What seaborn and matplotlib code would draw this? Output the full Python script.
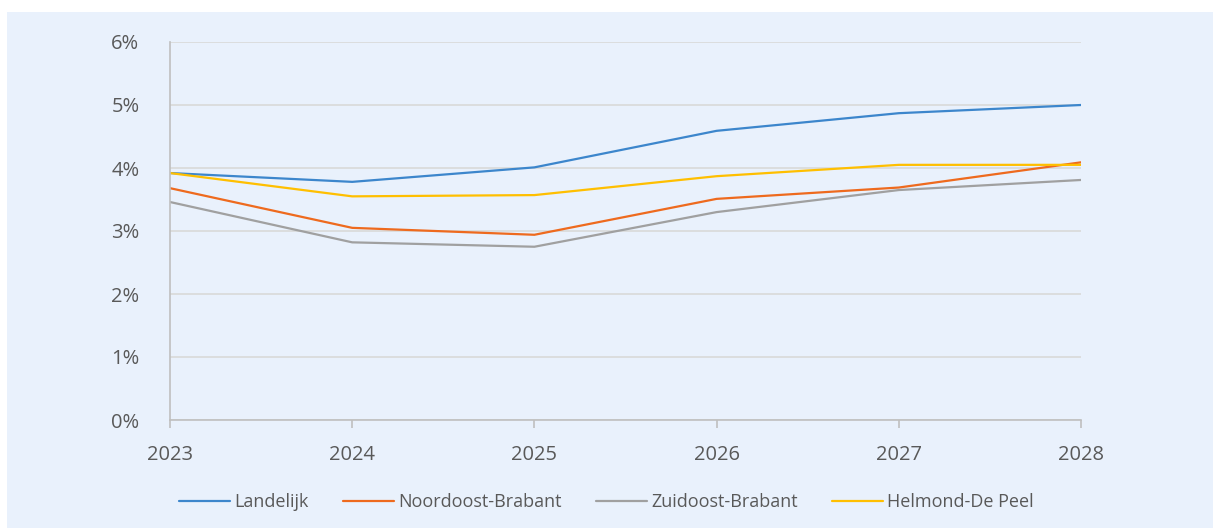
import matplotlib
matplotlib.use("Agg")
import matplotlib.pyplot as plt
import matplotlib.patches as mpatches
import seaborn as sns
import pandas as pd
from matplotlib.ticker import FuncFormatter

years = [2023, 2024, 2025, 2026, 2027, 2028]
landelijk = [3.92, 3.78, 4.01, 4.59, 4.87, 5.00]
noordoost = [3.68, 3.05, 2.94, 3.51, 3.69, 4.09]
zuidoost = [3.46, 2.82, 2.75, 3.30, 3.65, 3.81]
helmond = [3.92, 3.55, 3.57, 3.87, 4.05, 4.05]
series_names = ["Landelijk", "Noordoost-Brabant", "Zuidoost-Brabant", "Helmond-De Peel"]
colors = ["#3C86CC", "#EE6A1E", "#A0A0A0", "#FFBF00"]
y_ticks = [0, 1, 2, 3, 4, 5, 6]

rows = []
for name, vals in zip(series_names, [landelijk, noordoost, zuidoost, helmond]):
    for yr, v in zip(years, vals):
        rows.append({"jaar": yr, "waarde": v, "reeks": name})
df = pd.DataFrame(rows)

sns.set_theme(style="white")
plt.rcParams["font.family"] = ["Open Sans", "DejaVu Sans"]

W, H = 1213, 528
fig = plt.figure(figsize=(W / 100, H / 100), dpi=100)
fig.patch.set_facecolor("white")
bg = "#E9F1FC"
fig.patches.append(mpatches.Rectangle((7 / W, 0), 1 - 7 / W, (H - 12) / H,
                                      transform=fig.transFigure, facecolor=bg,
                                      edgecolor="none", zorder=-10))

ax = fig.add_axes([170 / W, (H - 420) / H, (1081 - 170) / W, (420 - 42) / H])
ax.set_facecolor(bg)

sns.lineplot(data=df, x="jaar", y="waarde", hue="reeks", hue_order=series_names,
             palette=colors, linewidth=1.6, ax=ax, legend=True)

ax.set_xlim(years[0], years[-1])
ax.set_ylim(0, 6)
ax.set_yticks(y_ticks)
ax.yaxis.set_major_formatter(FuncFormatter(lambda v, p: f"{int(v)}%"))
ax.set_xticks(years)
ax.set_xticklabels([str(y) for y in years])
ax.grid(axis="y", color="#D9D9D9", linewidth=1.2)
ax.grid(axis="x", visible=False)
ax.set_axisbelow(True)
for s in ["top", "right"]:
    ax.spines[s].set_visible(False)
for s in ["left", "bottom"]:
    ax.spines[s].set_color("#BFBFBF")
    ax.spines[s].set_linewidth(1.2)
ax.tick_params(axis="x", which="major", length=6, width=1.2, color="#BFBFBF",
               labelsize=14.5, labelcolor="#595959", pad=12, bottom=True)
ax.tick_params(axis="y", length=0, labelsize=14.5, labelcolor="#595959", pad=22)
ax.set_xlabel("")
ax.set_ylabel("")

leg = ax.legend(loc="center", bbox_to_anchor=(0.5, (H - 502) / H), bbox_transform=fig.transFigure,
                ncol=4, frameon=False, fontsize=13, handlelength=2.8, handletextpad=0.25,
                columnspacing=1.9)
for t in leg.get_texts():
    t.set_color("#595959")

fig.savefig("out.png", dpi=100, facecolor="white")
